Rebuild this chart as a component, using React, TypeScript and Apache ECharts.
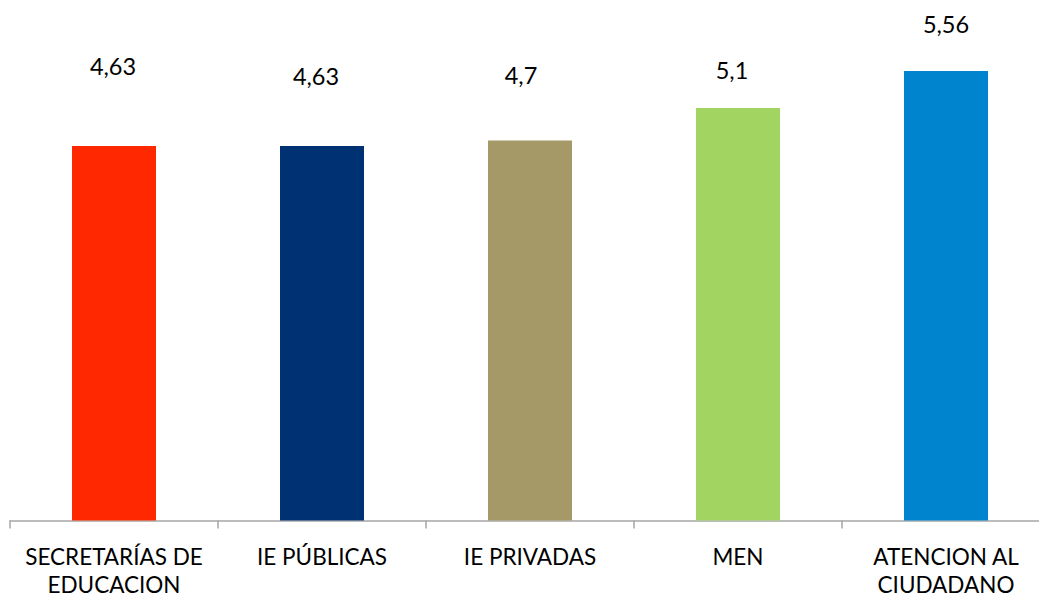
import React, { useEffect, useRef } from "react";
import * as echarts from "echarts";

const categories = ["SECRETARÍAS DE\nEDUCACION", "IE PÚBLICAS", "IE PRIVADAS", "MEN", "ATENCION AL\nCIUDADANO"];
const values = [4.63, 4.63, 4.7, 5.1, 5.56];
const valueLabels = ["4,63", "4,63", "4,7", "5,1", "5,56"];
const colors = ["#FF2800", "#003173", "#A59A67", "#A2D462", "#0084CE"];
// manual label placement (gap above bar, horizontal shift), as in the source
const labelGaps = [80, 70, 65, 38, 47];
const labelShifts = [-1, -6, -9, -6, 0];

export default function App() {
  const ref = useRef<HTMLDivElement>(null);
  useEffect(() => {
    const chart = echarts.init(ref.current!, undefined, { renderer: "svg" });
    const font = "Lato, 'Open Sans', sans-serif";
    chart.setOption({
      animation: false,
      grid: { left: 10, width: 1040, top: 35.3, bottom: 78.5, containLabel: false, outerBoundsMode: "none" },
      xAxis: {
        type: "category",
        data: categories,
        axisLine: { lineStyle: { color: "#A6A6A6", width: 1.5 } },
        axisTick: { show: true, length: 8, lineStyle: { color: "#A6A6A6", width: 1.5 } },
        axisLabel: {
          interval: 0,
          margin: 22,
          color: "#000",
          fontFamily: font,
          fontSize: 22.5,
          lineHeight: 28,
        },
      },
      yAxis: {
        type: "value",
        min: 0,
        max: 6,
        show: false,
        splitLine: { show: false },
      },
      series: [
        {
          type: "bar",
          barWidth: 84,
          data: values.map((v, i) => ({
            value: v,
            itemStyle: { color: colors[i] },
            label: {
              show: true,
              position: "top",
              distance: labelGaps[i],
              offset: [labelShifts[i], 0],
              verticalAlign: "middle",
              formatter: valueLabels[i],
              color: "#000",
              fontFamily: font,
              fontSize: 23.5,
            },
          })),
        },
      ],
    });
    return () => chart.dispose();
  }, []);
  return (
    <div
      ref={ref}
      style={{ position: "absolute", left: 0, top: 0, width: 1039, height: 599, background: "#fff" }}
    />
  );
}
